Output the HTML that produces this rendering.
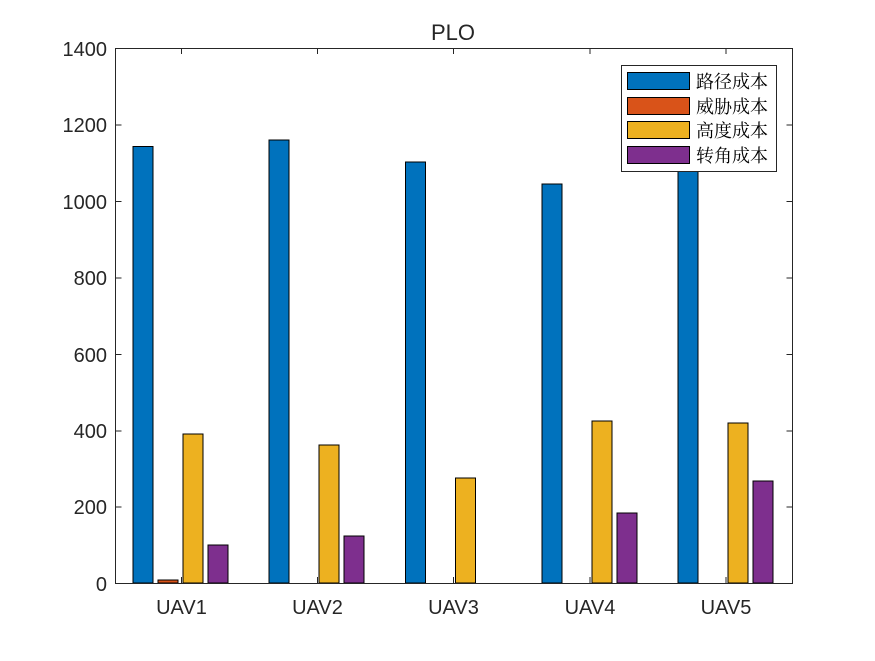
<!DOCTYPE html>
<html><head><meta charset="utf-8"><style>body{margin:0;background:#fff}</style></head><body>
<svg width="875" height="656" xmlns="http://www.w3.org/2000/svg" font-family="Liberation Sans, sans-serif">
<rect width="875" height="656" fill="#fff"/>
<text x="453" y="40" font-size="22" text-anchor="middle" fill="#262626">PLO</text>
<g stroke="#000" stroke-width="1">
<rect x="133" y="146.5" width="20" height="436.5" fill="#0072BD"/>
<rect x="158" y="580" width="20" height="3" fill="#D95319"/>
<rect x="183" y="434" width="20" height="149" fill="#EDB120"/>
<rect x="208" y="545" width="20" height="38" fill="#7E2F8E"/>
<rect x="269" y="140" width="20" height="443" fill="#0072BD"/>
<rect x="319" y="445" width="20" height="138" fill="#EDB120"/>
<rect x="344" y="536" width="20" height="47" fill="#7E2F8E"/>
<rect x="405.5" y="162" width="20" height="421" fill="#0072BD"/>
<rect x="455.5" y="478" width="20" height="105" fill="#EDB120"/>
<rect x="542" y="184" width="20" height="399" fill="#0072BD"/>
<rect x="592" y="421" width="20" height="162" fill="#EDB120"/>
<rect x="617" y="513" width="20" height="70" fill="#7E2F8E"/>
<rect x="678" y="151" width="20" height="432" fill="#0072BD"/>
<rect x="728" y="423" width="20" height="160" fill="#EDB120"/>
<rect x="753" y="481" width="20" height="102" fill="#7E2F8E"/>
</g>
<g stroke="#262626" stroke-width="1" fill="none">
<rect x="115.5" y="48.5" width="677" height="535"/>
<path d="M115.5 507h6M115.5 431h6M115.5 354.5h6M115.5 278h6M115.5 201.5h6M115.5 125h6M792.5 507h-6M792.5 431h-6M792.5 354.5h-6M792.5 278h-6M792.5 201.5h-6M792.5 125h-6"/>
<path d="M181.5 583v-6M317.5 583v-6M453.5 583v-6M590 583v-6M726 583v-6M181.5 48v6M317.5 48v6M453.5 48v6M590 48v6M726 48v6"/>
</g>
<g font-size="20" fill="#262626" text-anchor="end">
<text x="107" y="591">0</text><text x="107" y="514">200</text><text x="107" y="438">400</text>
<text x="107" y="362">600</text><text x="107" y="285">800</text><text x="107" y="209">1000</text>
<text x="107" y="132">1200</text><text x="107" y="56">1400</text>
</g>
<g font-size="20" fill="#262626" text-anchor="middle">
<text x="181.5" y="614">UAV1</text><text x="317.5" y="614">UAV2</text><text x="453.5" y="614">UAV3</text>
<text x="590" y="614">UAV4</text><text x="726" y="614">UAV5</text>
</g>
<rect x="621.5" y="65.5" width="155" height="106" fill="#fff" stroke="#262626"/>
<g stroke="#000">
<rect x="627.5" y="72.5" width="62" height="17" fill="#0072BD"/>
<rect x="627.5" y="97.5" width="62" height="17" fill="#D95319"/>
<rect x="627.5" y="121.5" width="62" height="17" fill="#EDB120"/>
<rect x="627.5" y="146.5" width="62" height="17" fill="#7E2F8E"/>
</g>
<g font-family="Noto Serif CJK SC, serif" font-size="18" fill="#000">
<text x="696" y="88">路径成本</text><text x="696" y="113">威胁成本</text>
<text x="696" y="137">高度成本</text><text x="696" y="162">转角成本</text>
</g>
</svg>
</body></html>
